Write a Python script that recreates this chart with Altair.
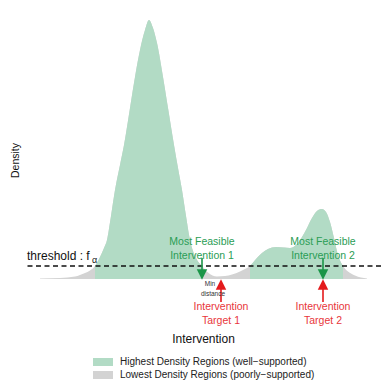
import altair as alt
import pandas as pd

# ---- density curve (arbitrary intervention units) ----
intervention = [0, 20, 35, 45, 50, 55, 60, 64, 67, 71, 75, 80, 84, 90, 95, 100,
                105, 109, 113, 117, 123, 128, 134, 138, 142, 146, 150, 156, 162,
                168, 177, 185, 192, 200, 206, 210, 216, 222, 228, 236, 244, 250,
                256, 262, 267, 272, 277, 282, 286, 290, 294, 298, 303, 308, 315, 327]
density = [0.001, 0.002, 0.005, 0.012, 0.017, 0.026, 0.044, 0.062, 0.078, 0.126,
           0.178, 0.228, 0.268, 0.342, 0.404, 0.458, 0.498, 0.518, 0.502, 0.472,
           0.404, 0.342, 0.268, 0.222, 0.178, 0.126, 0.078, 0.042, 0.026, 0.013,
           0.005, 0.006, 0.009, 0.015, 0.021, 0.026, 0.040, 0.052, 0.060, 0.064,
           0.063, 0.062, 0.068, 0.084, 0.102, 0.122, 0.136, 0.140, 0.134, 0.114,
           0.082, 0.048, 0.026, 0.015, 0.007, 0.001]

hdr_start = [55, 210]
hdr_end = [162, 303]
threshold = 0.026

region_names = ["Highest Density Regions (well\u2212supported)",
                "Lowest Density Regions (poorly\u2212supported)"]
region_colors = ["#b2dbc5", "#d3d3d3"]

# annotations
feasible_x = [162, 283]
target_x = [181, 283]
feasible_lines = [["Most Feasible", "Intervention 1"], ["Most Feasible", "Intervention 2"]]
target_lines = [["Intervention", "Target 1"], ["Intervention", "Target 2"]]
feasible_text_y = [0.068, 0.040]
target_text_y = [-0.062, -0.089]
green_shaft = [0.042, 0.018]
green_head = 0.009
red_shaft = [-0.020, -0.046]
red_head = -0.011
min_dist_x = [170, 173]
min_dist_y = [-0.013, -0.033]
min_dist_text = ["Min", "distance"]
thr_label = ["threshold : f", "\u03b1"]
thr_label_x = [-13, 52]
thr_label_y = [0.038, 0.032]

GREEN = "#1b9548"
RED = "#e41a1c"

# ---- tables ----
curve = pd.DataFrame({"x": intervention, "d": density})
curve["region"] = region_names[1]
parts = []
for i, (a, b) in enumerate(zip(hdr_start, hdr_end)):
    seg = curve[(curve.x >= a) & (curve.x <= b)].copy()
    seg["region"] = region_names[0]
    seg["seg"] = i
    parts.append(seg)
hdr = pd.concat(parts)

xscale = alt.Scale(domain=[-15, 341], nice=False, zero=False)
yscale = alt.Scale(domain=[-0.098, 0.542], nice=False, zero=False)
xaxis = alt.Axis(title="Intervention", domain=False, ticks=False, labels=False,
                 grid=False, titleFontSize=12, titleFontWeight="normal",
                 titlePadding=5, titleColor="#111111")
yaxis = alt.Axis(title="Density", domain=False, ticks=False, labels=False,
                 grid=False, titleFontSize=10.5, titleFontWeight="normal",
                 titlePadding=5, titleColor="#111111", titleY=152)


def X(f):
    return alt.X(f, type="quantitative", scale=xscale, axis=xaxis)


def Y(f):
    return alt.Y(f, type="quantitative", scale=yscale, axis=yaxis)


color = alt.Color(
    "region:N",
    scale=alt.Scale(domain=region_names, range=region_colors),
    legend=alt.Legend(
        title=None, orient="none", legendX=73, legendY=349, direction="vertical",
        symbolType="M-2.5,-1H2.5V1H-2.5Z", symbolSize=64, symbolStrokeWidth=0,
        symbolOpacity=1, labelFontSize=10, labelColor="#222222", labelOffset=12,
        rowPadding=3, padding=0, labelFont="Liberation Sans", labelLimit=0,
    ),
)

gray_area = alt.Chart(curve).mark_area(interpolate="monotone", opacity=1).encode(
    x=X("x"), y=Y("d"), y2=alt.datum(0), color=color)
green_area = alt.Chart(hdr).mark_area(interpolate="monotone", opacity=1).encode(
    x=X("x"), y=Y("d"), y2=alt.datum(0), color=color, detail="seg:N")

thr = alt.Chart(pd.DataFrame({"t": [threshold]})).mark_rule(
    strokeDash=[5, 3.5], strokeWidth=1.6, color="#111111").encode(y=Y("t"))

g_shaft = alt.Chart(pd.DataFrame({"x": feasible_x, "y": [green_shaft[0]] * 2,
                                  "y2": [green_shaft[1]] * 2})).mark_rule(
    color=GREEN, strokeWidth=1.6).encode(x=X("x"), y=Y("y"), y2="y2")
g_head = alt.Chart(pd.DataFrame({"x": feasible_x, "y": [green_head] * 2})).mark_point(
    shape="M-1,-1L1,-1L0,1Z", filled=True, size=110, color=GREEN, opacity=1,
    strokeWidth=0).encode(x=X("x"), y=Y("y"))
r_shaft = alt.Chart(pd.DataFrame({"x": target_x, "y": [red_shaft[0]] * 2,
                                  "y2": [red_shaft[1]] * 2})).mark_rule(
    color=RED, strokeWidth=1.6).encode(x=X("x"), y=Y("y"), y2="y2")
r_head = alt.Chart(pd.DataFrame({"x": target_x, "y": [red_head] * 2})).mark_point(
    shape="M-1,1L1,1L0,-1Z", filled=True, size=110, color=RED, opacity=1,
    strokeWidth=0).encode(x=X("x"), y=Y("y"))


def lines_df(xs, lines, ys):
    rows = []
    for x, ls in zip(xs, lines):
        for t, y in zip(ls, ys):
            rows.append({"x": x, "y": y, "t": t})
    return pd.DataFrame(rows)


g_text = alt.Chart(lines_df(feasible_x, feasible_lines, feasible_text_y)).mark_text(
    color="#2a9d55", fontSize=10.5, align="center", baseline="alphabetic").encode(
    x=X("x"), y=Y("y"), text="t:N")
r_text = alt.Chart(lines_df(target_x, target_lines, target_text_y)).mark_text(
    color="#e8363b", fontSize=10.5, align="center", baseline="alphabetic").encode(
    x=X("x"), y=Y("y"), text="t:N")

md = pd.DataFrame({"x": min_dist_x, "y": min_dist_y, "t": min_dist_text})
md_text = alt.Chart(md).mark_text(color="#333333", fontSize=6.5, align="center",
                                   baseline="alphabetic").encode(
    x=X("x"), y=Y("y"), text="t:N")

thr_df = pd.DataFrame({"x": thr_label_x, "y": thr_label_y, "t": thr_label,
                       "s": [12, 9]})
thr_text = alt.Chart(thr_df).mark_text(color="#111111", align="left",
                                       baseline="alphabetic").encode(
    x=X("x"), y=Y("y"), text="t:N", size=alt.Size("s:Q", scale=None, legend=None))

chart = alt.layer(
    gray_area, green_area, thr, g_shaft, g_head, r_shaft, r_head,
    g_text, r_text, md_text, thr_text,
).properties(
    width=356, height=320,
    autosize=alt.AutoSizeParams(type="none"),
    padding={"left": 17, "top": 0, "right": 0, "bottom": 54},
).configure(font="Liberation Sans").configure_view(stroke=None)

chart.save("out.html", embed_options={"renderer": "svg", "actions": False})
